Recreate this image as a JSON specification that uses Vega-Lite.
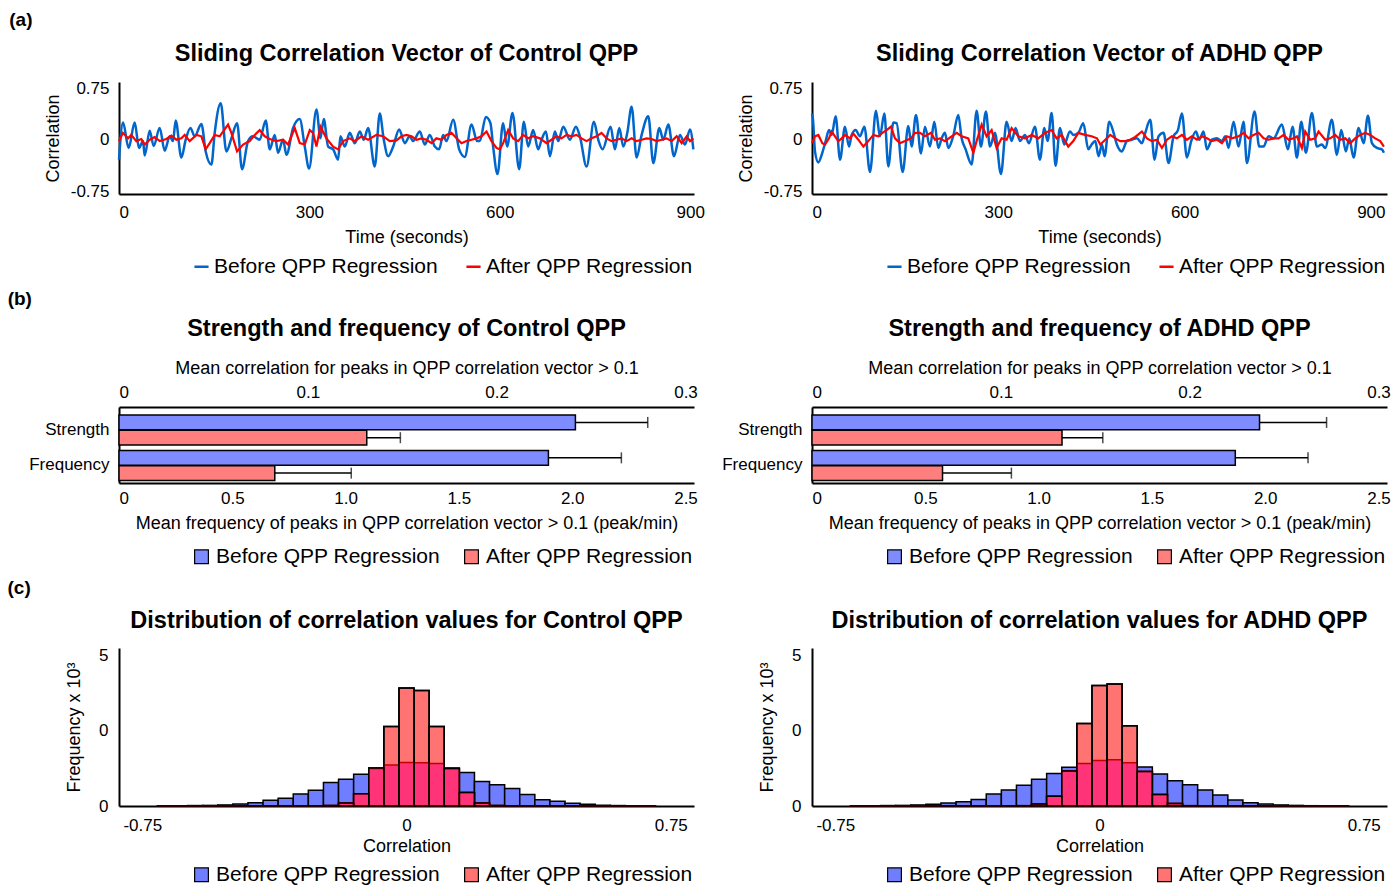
{
  "$schema": "https://vega.github.io/schema/vega-lite/v6.json",
  "background": "white",
  "padding": {"left": 7, "top": 10, "right": 2, "bottom": 0},
  "config": {
    "font": "Liberation Sans",
    "view": {"stroke": null},
    "axis": {"domainColor": "black", "domainWidth": 2, "ticks": false, "grid": false, "labelColor": "black", "titleColor": "black", "labelFontSize": 17, "titleFontSize": 18, "titleFontWeight": "normal", "labelFont": "Liberation Sans", "titleFont": "Liberation Sans"},
    "title": {"fontSize": 23.5, "fontWeight": "bold", "color": "black", "font": "Liberation Sans"},
    "legend": {"labelFontSize": 21, "labelColor": "black", "labelFont": "Liberation Sans", "labelLimit": 400}
  },
  "datasets": {
    "cb": [{"t":0,"v":-0.29},{"t":6.3,"v":0.25},{"t":15.2,"v":-0.12},{"t":24.7,"v":0.25},{"t":31.5,"v":-0.12},{"t":37.8,"v":-0.02},{"t":40.5,"v":-0.23},{"t":48.4,"v":0.13},{"t":54.6,"v":-0.09},{"t":64.1,"v":0.17},{"t":72,"v":-0.16},{"t":79.9,"v":0.05},{"t":85.1,"v":-0.02},{"t":89.3,"v":0.28},{"t":98.3,"v":-0.26},{"t":105.1,"v":0},{"t":112.5,"v":0.17},{"t":119.3,"v":0.05},{"t":129.8,"v":0.23},{"t":136.6,"v":-0.17},{"t":145.6,"v":-0.36},{"t":150.8,"v":0.1},{"t":160.3,"v":0.53},{"t":169.2,"v":-0.17},{"t":177.1,"v":0.02},{"t":186,"v":0.24},{"t":193.9,"v":-0.43},{"t":203.3,"v":-0.02},{"t":211.2,"v":0.05},{"t":221.7,"v":0},{"t":231.2,"v":0.28},{"t":237.5,"v":-0.14},{"t":245.4,"v":0.07},{"t":250.6,"v":-0.19},{"t":258.5,"v":0},{"t":263.8,"v":-0.22},{"t":274.3,"v":0.17},{"t":284.8,"v":0.3},{"t":292.7,"v":-0.1},{"t":299.5,"v":-0.42},{"t":311.1,"v":0.44},{"t":317.4,"v":0.02},{"t":322.6,"v":0.3},{"t":329.5,"v":-0.1},{"t":337.4,"v":-0.14},{"t":345.2,"v":-0.29},{"t":348.9,"v":0.05},{"t":355.7,"v":-0.1},{"t":363.6,"v":0.1},{"t":371.5,"v":-0.05},{"t":379.4,"v":0.12},{"t":385.7,"v":0},{"t":392.5,"v":0.17},{"t":403,"v":-0.39},{"t":410.9,"v":0.38},{"t":417.2,"v":0},{"t":424.1,"v":-0.24},{"t":432,"v":-0.1},{"t":441.4,"v":0.15},{"t":450.3,"v":-0.05},{"t":458,"v":0.05},{"t":463.4,"v":-0.02},{"t":474,"v":0.12},{"t":481.8,"v":-0.07},{"t":489.7,"v":0.07},{"t":497.6,"v":-0.1},{"t":504.4,"v":-0.14},{"t":510.7,"v":0.07},{"t":516,"v":-0.02},{"t":526.5,"v":0.29},{"t":536,"v":-0.14},{"t":544.9,"v":-0.25},{"t":555.4,"v":0.22},{"t":564.3,"v":-0.02},{"t":568.5,"v":-0.02},{"t":578,"v":0.33},{"t":585.3,"v":0.24},{"t":589.5,"v":-0.1},{"t":596.4,"v":-0.5},{"t":605.2,"v":0.24},{"t":611.6,"v":-0.1},{"t":620,"v":0.39},{"t":630.5,"v":-0.43},{"t":637.9,"v":0.26},{"t":644.7,"v":-0.1},{"t":652.6,"v":0.14},{"t":660.5,"v":-0.14},{"t":665.8,"v":0},{"t":672.6,"v":0.12},{"t":679,"v":-0.24},{"t":686.8,"v":0.12},{"t":692.1,"v":-0.02},{"t":700,"v":0.19},{"t":710.5,"v":0},{"t":719.9,"v":0.19},{"t":726.2,"v":0.05},{"t":736.7,"v":-0.39},{"t":748.3,"v":0.26},{"t":755.1,"v":0},{"t":762,"v":-0.14},{"t":774.6,"v":0.19},{"t":781.4,"v":-0.14},{"t":788.3,"v":0.17},{"t":794.6,"v":-0.1},{"t":800.9,"v":0.1},{"t":807.7,"v":0.48},{"t":815.6,"v":-0.26},{"t":823.5,"v":0.07},{"t":834,"v":0.34},{"t":841.9,"v":-0.34},{"t":851.3,"v":0.17},{"t":857.6,"v":0},{"t":865.5,"v":0.22},{"t":874.5,"v":-0.24},{"t":883.9,"v":0.07},{"t":891.8,"v":-0.07},{"t":899.7,"v":0.15},{"t":905,"v":-0.14}],
    "cr": [{"t":0,"v":-0.02},{"t":6.3,"v":0.1},{"t":14.2,"v":0.02},{"t":19.4,"v":0.07},{"t":27.3,"v":-0.02},{"t":35.2,"v":0.01},{"t":40.5,"v":-0.07},{"t":48.4,"v":0},{"t":56.2,"v":0.04},{"t":64.1,"v":-0.02},{"t":74.6,"v":0.01},{"t":82.5,"v":0.06},{"t":90.4,"v":0},{"t":98.3,"v":0.02},{"t":103.5,"v":0.07},{"t":111.4,"v":-0.02},{"t":122,"v":0.07},{"t":129.8,"v":0.05},{"t":136.6,"v":-0.14},{"t":142.9,"v":-0.05},{"t":150.8,"v":0.07},{"t":158.7,"v":0.05},{"t":171.8,"v":0.22},{"t":177.1,"v":0.1},{"t":186,"v":-0.17},{"t":195.5,"v":-0.07},{"t":206,"v":-0.02},{"t":213.9,"v":0.07},{"t":221.7,"v":0.14},{"t":229.6,"v":0.05},{"t":237.5,"v":0.01},{"t":248,"v":-0.02},{"t":258.5,"v":0},{"t":266.4,"v":-0.07},{"t":276.9,"v":0.17},{"t":284.8,"v":-0.05},{"t":292.7,"v":-0.07},{"t":300.6,"v":0.14},{"t":305.8,"v":0.1},{"t":311.1,"v":-0.1},{"t":317.4,"v":0.19},{"t":326.9,"v":0.02},{"t":337.4,"v":-0.1},{"t":345.2,"v":-0.14},{"t":353.1,"v":-0.02},{"t":363.6,"v":0.02},{"t":371.5,"v":-0.02},{"t":382,"v":0.05},{"t":392.5,"v":0},{"t":405.6,"v":0.07},{"t":416.2,"v":0.05},{"t":426.7,"v":-0.02},{"t":437.2,"v":-0.01},{"t":445.1,"v":0.05},{"t":453,"v":0.07},{"t":460.8,"v":0.05},{"t":468.7,"v":0},{"t":476.6,"v":0.02},{"t":484.5,"v":0},{"t":492.4,"v":-0.05},{"t":500.2,"v":0.02},{"t":508.1,"v":0},{"t":516,"v":0.07},{"t":523.9,"v":0.1},{"t":531.8,"v":0.02},{"t":539.6,"v":-0.05},{"t":547.5,"v":-0.02},{"t":555.4,"v":0},{"t":563.3,"v":0.02},{"t":571.2,"v":0.05},{"t":579.1,"v":0.12},{"t":586.9,"v":-0.02},{"t":594.8,"v":-0.12},{"t":600.1,"v":-0.14},{"t":605.3,"v":-0.05},{"t":613.2,"v":0.14},{"t":621.1,"v":0.02},{"t":629,"v":-0.02},{"t":636.8,"v":0.07},{"t":644.7,"v":0.02},{"t":652.6,"v":0.05},{"t":663.1,"v":0.02},{"t":673.6,"v":-0.05},{"t":681.5,"v":0},{"t":689.4,"v":0.05},{"t":697.3,"v":0.02},{"t":705.1,"v":0.07},{"t":713,"v":0.05},{"t":720.9,"v":0.07},{"t":728.8,"v":0.02},{"t":736.7,"v":-0.02},{"t":744.6,"v":0.02},{"t":752.5,"v":0.05},{"t":760.3,"v":0.1},{"t":768.2,"v":0.02},{"t":776.1,"v":-0.02},{"t":784,"v":0},{"t":791.9,"v":0.02},{"t":799.8,"v":-0.02},{"t":807.7,"v":0.02},{"t":815.6,"v":-0.02},{"t":823.5,"v":0},{"t":831.3,"v":0.02},{"t":839.2,"v":0.01},{"t":847.1,"v":-0.02},{"t":855,"v":0},{"t":862.9,"v":0.02},{"t":870.8,"v":-0.02},{"t":878.7,"v":0.05},{"t":886.6,"v":-0.05},{"t":894.5,"v":0.05},{"t":899.7,"v":-0.02},{"t":905,"v":0.02}],
    "ab": [{"t":0,"v":0.38},{"t":1.5,"v":0.3},{"t":4.8,"v":-0.17},{"t":10.2,"v":-0.33},{"t":16.6,"v":-0.19},{"t":22,"v":-0.02},{"t":27.4,"v":0.14},{"t":31.7,"v":0.07},{"t":38.1,"v":0.34},{"t":45.1,"v":-0.29},{"t":53.1,"v":0.19},{"t":59.6,"v":-0.1},{"t":63.9,"v":0.07},{"t":70.3,"v":0.14},{"t":77.3,"v":0.05},{"t":84.3,"v":0.19},{"t":93.4,"v":-0.47},{"t":103,"v":0.42},{"t":109.4,"v":0.05},{"t":116.5,"v":0.38},{"t":122.9,"v":-0.39},{"t":131,"v":0.25},{"t":136.3,"v":0.24},{"t":146,"v":-0.47},{"t":155.1,"v":0.2},{"t":160.5,"v":-0.1},{"t":167.4,"v":0.36},{"t":175.5,"v":-0.2},{"t":181.9,"v":0.19},{"t":190,"v":-0.1},{"t":197,"v":0.26},{"t":203.4,"v":-0.12},{"t":208.8,"v":0.02},{"t":214.1,"v":0.1},{"t":219.5,"v":-0.12},{"t":227.3,"v":0.05},{"t":235.6,"v":0.36},{"t":241,"v":0.02},{"t":247.4,"v":-0.14},{"t":257.1,"v":-0.36},{"t":265.1,"v":0.42},{"t":272.1,"v":-0.1},{"t":280.1,"v":0.41},{"t":286.6,"v":-0.1},{"t":294.6,"v":0.1},{"t":304.3,"v":-0.5},{"t":313.4,"v":0.26},{"t":321.5,"v":-0.02},{"t":327.9,"v":0.17},{"t":334.9,"v":-0.02},{"t":342.9,"v":0.07},{"t":349.4,"v":-0.05},{"t":359,"v":0.19},{"t":367.1,"v":-0.29},{"t":374.1,"v":0.17},{"t":379.4,"v":-0.02},{"t":385.9,"v":0.39},{"t":392.3,"v":-0.38},{"t":399.3,"v":0.17},{"t":406.3,"v":-0.07},{"t":415.4,"v":0.12},{"t":420.8,"v":0.07},{"t":428.9,"v":0.1},{"t":436.9,"v":0.24},{"t":445,"v":-0.14},{"t":450.3,"v":-0.07},{"t":456.2,"v":-0.02},{"t":461.5,"v":-0.24},{"t":466.9,"v":-0.07},{"t":471.2,"v":-0.24},{"t":478.7,"v":0.26},{"t":485.7,"v":0.1},{"t":491,"v":-0.07},{"t":499.1,"v":-0.17},{"t":507.1,"v":-0.02},{"t":515.2,"v":0},{"t":523.3,"v":0.02},{"t":531.3,"v":-0.05},{"t":536.7,"v":0.1},{"t":544.7,"v":0.29},{"t":551.7,"v":-0.29},{"t":558.1,"v":0.05},{"t":566.2,"v":0.1},{"t":574.2,"v":-0.34},{"t":582.3,"v":0.05},{"t":589.3,"v":0.14},{"t":595.7,"v":0.38},{"t":603.8,"v":-0.26},{"t":610.7,"v":-0.02},{"t":618.3,"v":0.12},{"t":623.6,"v":0},{"t":630.6,"v":0.12},{"t":635.9,"v":-0.14},{"t":644,"v":0},{"t":652,"v":0.02},{"t":660.1,"v":-0.02},{"t":665.5,"v":0.05},{"t":670.8,"v":-0.12},{"t":678.9,"v":0.26},{"t":686.9,"v":-0.1},{"t":695,"v":0.26},{"t":700.4,"v":-0.34},{"t":712.7,"v":0.41},{"t":720.2,"v":-0.1},{"t":727.2,"v":-0.1},{"t":735.2,"v":0.05},{"t":743.3,"v":0.02},{"t":756.7,"v":0.22},{"t":766.4,"v":-0.14},{"t":773.9,"v":0.19},{"t":780.9,"v":-0.26},{"t":787.9,"v":0.26},{"t":795.4,"v":-0.19},{"t":805,"v":0.39},{"t":813.1,"v":-0.1},{"t":821.1,"v":-0.07},{"t":826.5,"v":-0.12},{"t":837.2,"v":0.29},{"t":845.3,"v":-0.22},{"t":852.3,"v":0.14},{"t":859.8,"v":-0.17},{"t":865.2,"v":0.02},{"t":872.2,"v":-0.26},{"t":880.2,"v":0.17},{"t":888.3,"v":-0.05},{"t":895.3,"v":0.35},{"t":901.7,"v":-0.05},{"t":909.8,"v":-0.12},{"t":917.8,"v":-0.14},{"t":921,"v":-0.19}],
    "ar": [{"t":0,"v":-0.05},{"t":4.8,"v":0.05},{"t":10.2,"v":0.07},{"t":16.6,"v":-0.05},{"t":20.9,"v":-0.07},{"t":27.4,"v":0.02},{"t":31.7,"v":0.12},{"t":37,"v":0.05},{"t":42.4,"v":-0.02},{"t":47.8,"v":0.02},{"t":53.1,"v":0.07},{"t":61.2,"v":0.02},{"t":66.6,"v":0.09},{"t":74.6,"v":0},{"t":82.7,"v":-0.1},{"t":90.7,"v":-0.02},{"t":98.8,"v":0.07},{"t":106.8,"v":0.05},{"t":113.2,"v":0.1},{"t":120.2,"v":0.14},{"t":127.2,"v":0.19},{"t":133.6,"v":0.02},{"t":141.7,"v":-0.05},{"t":149.7,"v":-0.02},{"t":159.4,"v":0.02},{"t":165.8,"v":0.1},{"t":173.9,"v":0.1},{"t":181.9,"v":0.05},{"t":191.6,"v":0.1},{"t":198,"v":0},{"t":206.1,"v":0.02},{"t":214.1,"v":-0.02},{"t":224.9,"v":0.05},{"t":232.9,"v":0.1},{"t":241,"v":0.05},{"t":251.7,"v":0.02},{"t":259.8,"v":-0.19},{"t":265.1,"v":-0.02},{"t":273.2,"v":0.22},{"t":281.2,"v":0.05},{"t":289.3,"v":0.14},{"t":297.3,"v":-0.12},{"t":305.4,"v":0.02},{"t":313.4,"v":0},{"t":321.5,"v":0.17},{"t":332.2,"v":0.05},{"t":342.9,"v":0.02},{"t":353.7,"v":0.07},{"t":364.4,"v":0.02},{"t":375.1,"v":0.1},{"t":385.9,"v":0.14},{"t":393.9,"v":0.02},{"t":402,"v":0.07},{"t":412.7,"v":-0.1},{"t":420.8,"v":-0.02},{"t":428.9,"v":0.1},{"t":439.6,"v":0.07},{"t":450.3,"v":0.05},{"t":458.9,"v":0.02},{"t":464.2,"v":-0.07},{"t":472.3,"v":0},{"t":480.3,"v":0.07},{"t":488.4,"v":0.02},{"t":496.4,"v":-0.02},{"t":504.5,"v":-0.02},{"t":512.5,"v":0},{"t":520.6,"v":0.04},{"t":531.3,"v":0.12},{"t":539.4,"v":0.02},{"t":547.4,"v":-0.02},{"t":555.5,"v":0},{"t":563.5,"v":-0.12},{"t":571.6,"v":0},{"t":579.6,"v":0.05},{"t":587.7,"v":0.02},{"t":595.7,"v":0.07},{"t":603.8,"v":0},{"t":611.8,"v":0.05},{"t":619.9,"v":0},{"t":627.9,"v":0.05},{"t":636,"v":0.02},{"t":644,"v":-0.02},{"t":652.1,"v":0},{"t":660.1,"v":-0.05},{"t":668.2,"v":0.05},{"t":676.2,"v":0.02},{"t":687,"v":0.05},{"t":695,"v":0.1},{"t":703.1,"v":0.02},{"t":711.1,"v":0.07},{"t":719.2,"v":0.1},{"t":727.2,"v":0.02},{"t":735.3,"v":0},{"t":743.3,"v":0.02},{"t":751.4,"v":0.02},{"t":759.4,"v":0.07},{"t":767.5,"v":0},{"t":775.5,"v":0.02},{"t":780.9,"v":0.05},{"t":788.9,"v":-0.12},{"t":794.3,"v":0.12},{"t":802.3,"v":0},{"t":810.4,"v":0.02},{"t":815.8,"v":0.12},{"t":826.5,"v":0},{"t":834.6,"v":0.02},{"t":842.6,"v":0.07},{"t":850.7,"v":0},{"t":858.7,"v":0.02},{"t":866.8,"v":-0.05},{"t":874.8,"v":0.02},{"t":882.9,"v":0.07},{"t":890.9,"v":0.1},{"t":899,"v":0.07},{"t":907,"v":0.02},{"t":915.1,"v":-0.02},{"t":921,"v":-0.1}],
    "bars": [
      {"panel":"Control","measure":"Strength","group":"Before QPP Regression","mean":0.2417,"hi":0.28},
      {"panel":"Control","measure":"Strength","group":"After QPP Regression","mean":0.1312,"hi":0.149},
      {"panel":"Control","measure":"Frequency","group":"Before QPP Regression","mean":1.895,"hi":2.217},
      {"panel":"Control","measure":"Frequency","group":"After QPP Regression","mean":0.6875,"hi":1.025},
      {"panel":"ADHD","measure":"Strength","group":"Before QPP Regression","mean":0.237,"hi":0.2725},
      {"panel":"ADHD","measure":"Strength","group":"After QPP Regression","mean":0.1324,"hi":0.154},
      {"panel":"ADHD","measure":"Frequency","group":"Before QPP Regression","mean":1.868,"hi":2.189},
      {"panel":"ADHD","measure":"Frequency","group":"After QPP Regression","mean":0.576,"hi":0.88}
    ],
    "hist": [
      {"panel":"Control","lo":-0.7071,"hi":-0.6643,"before":0.02,"after":0},
      {"panel":"Control","lo":-0.6643,"hi":-0.6214,"before":0.02,"after":0},
      {"panel":"Control","lo":-0.6214,"hi":-0.5786,"before":0.03,"after":0},
      {"panel":"Control","lo":-0.5786,"hi":-0.5357,"before":0.04,"after":0},
      {"panel":"Control","lo":-0.5357,"hi":-0.4929,"before":0.07,"after":0},
      {"panel":"Control","lo":-0.4929,"hi":-0.45,"before":0.13,"after":0},
      {"panel":"Control","lo":-0.45,"hi":-0.4071,"before":0.22,"after":0},
      {"panel":"Control","lo":-0.4071,"hi":-0.3643,"before":0.38,"after":0},
      {"panel":"Control","lo":-0.3643,"hi":-0.3214,"before":0.51,"after":0},
      {"panel":"Control","lo":-0.3214,"hi":-0.2786,"before":0.8,"after":0},
      {"panel":"Control","lo":-0.2786,"hi":-0.2357,"before":1.04,"after":0.01},
      {"panel":"Control","lo":-0.2357,"hi":-0.1929,"before":1.56,"after":0.03},
      {"panel":"Control","lo":-0.1929,"hi":-0.15,"before":1.78,"after":0.2},
      {"panel":"Control","lo":-0.15,"hi":-0.1071,"before":2.11,"after":0.82},
      {"panel":"Control","lo":-0.1071,"hi":-0.0643,"before":2.5,"after":2.52},
      {"panel":"Control","lo":-0.0643,"hi":-0.0214,"before":2.73,"after":5.29},
      {"panel":"Control","lo":-0.0214,"hi":0.0214,"before":2.89,"after":7.84},
      {"panel":"Control","lo":0.0214,"hi":0.0643,"before":2.87,"after":7.67},
      {"panel":"Control","lo":0.0643,"hi":0.1071,"before":2.82,"after":5.29},
      {"panel":"Control","lo":0.1071,"hi":0.15,"before":2.53,"after":2.49},
      {"panel":"Control","lo":0.15,"hi":0.1929,"before":2.22,"after":0.89},
      {"panel":"Control","lo":0.1929,"hi":0.2357,"before":1.62,"after":0.2},
      {"panel":"Control","lo":0.2357,"hi":0.2786,"before":1.42,"after":0.03},
      {"panel":"Control","lo":0.2786,"hi":0.3214,"before":1.16,"after":0},
      {"panel":"Control","lo":0.3214,"hi":0.3643,"before":0.76,"after":0},
      {"panel":"Control","lo":0.3643,"hi":0.4071,"before":0.42,"after":0},
      {"panel":"Control","lo":0.4071,"hi":0.45,"before":0.31,"after":0},
      {"panel":"Control","lo":0.45,"hi":0.4929,"before":0.18,"after":0},
      {"panel":"Control","lo":0.4929,"hi":0.5357,"before":0.11,"after":0},
      {"panel":"Control","lo":0.5357,"hi":0.5786,"before":0.05,"after":0},
      {"panel":"Control","lo":0.5786,"hi":0.6214,"before":0.03,"after":0},
      {"panel":"Control","lo":0.6214,"hi":0.6643,"before":0.02,"after":0},
      {"panel":"Control","lo":0.6643,"hi":0.7071,"before":0.01,"after":0},
      {"panel":"ADHD","lo":-0.7071,"hi":-0.6643,"before":0.01,"after":0},
      {"panel":"ADHD","lo":-0.6643,"hi":-0.6214,"before":0.02,"after":0},
      {"panel":"ADHD","lo":-0.6214,"hi":-0.5786,"before":0.03,"after":0},
      {"panel":"ADHD","lo":-0.5786,"hi":-0.5357,"before":0.04,"after":0},
      {"panel":"ADHD","lo":-0.5357,"hi":-0.4929,"before":0.07,"after":0},
      {"panel":"ADHD","lo":-0.4929,"hi":-0.45,"before":0.11,"after":0},
      {"panel":"ADHD","lo":-0.45,"hi":-0.4071,"before":0.2,"after":0},
      {"panel":"ADHD","lo":-0.4071,"hi":-0.3643,"before":0.29,"after":0},
      {"panel":"ADHD","lo":-0.3643,"hi":-0.3214,"before":0.44,"after":0},
      {"panel":"ADHD","lo":-0.3214,"hi":-0.2786,"before":0.8,"after":0},
      {"panel":"ADHD","lo":-0.2786,"hi":-0.2357,"before":1.07,"after":0.01},
      {"panel":"ADHD","lo":-0.2357,"hi":-0.1929,"before":1.38,"after":0.02},
      {"panel":"ADHD","lo":-0.1929,"hi":-0.15,"before":1.78,"after":0.13},
      {"panel":"ADHD","lo":-0.15,"hi":-0.1071,"before":2.16,"after":0.64},
      {"panel":"ADHD","lo":-0.1071,"hi":-0.0643,"before":2.58,"after":2.33},
      {"panel":"ADHD","lo":-0.0643,"hi":-0.0214,"before":2.82,"after":5.49},
      {"panel":"ADHD","lo":-0.0214,"hi":0.0214,"before":3.02,"after":8.0},
      {"panel":"ADHD","lo":0.0214,"hi":0.0643,"before":3.07,"after":8.11},
      {"panel":"ADHD","lo":0.0643,"hi":0.1071,"before":2.87,"after":5.33},
      {"panel":"ADHD","lo":0.1071,"hi":0.15,"before":2.6,"after":2.29},
      {"panel":"ADHD","lo":0.15,"hi":0.1929,"before":2.13,"after":0.76},
      {"panel":"ADHD","lo":0.1929,"hi":0.2357,"before":1.67,"after":0.16},
      {"panel":"ADHD","lo":0.2357,"hi":0.2786,"before":1.42,"after":0.02},
      {"panel":"ADHD","lo":0.2786,"hi":0.3214,"before":1.07,"after":0},
      {"panel":"ADHD","lo":0.3214,"hi":0.3643,"before":0.73,"after":0},
      {"panel":"ADHD","lo":0.3643,"hi":0.4071,"before":0.4,"after":0},
      {"panel":"ADHD","lo":0.4071,"hi":0.45,"before":0.22,"after":0},
      {"panel":"ADHD","lo":0.45,"hi":0.4929,"before":0.13,"after":0},
      {"panel":"ADHD","lo":0.4929,"hi":0.5357,"before":0.07,"after":0},
      {"panel":"ADHD","lo":0.5357,"hi":0.5786,"before":0.04,"after":0},
      {"panel":"ADHD","lo":0.5786,"hi":0.6214,"before":0.02,"after":0},
      {"panel":"ADHD","lo":0.6214,"hi":0.6643,"before":0.01,"after":0},
      {"panel":"ADHD","lo":0.6643,"hi":0.7071,"before":0.01,"after":0}
    ]
  },
  "spacing": 12,
  "resolve": {"scale": {"color": "independent"}, "legend": {"color": "independent"}},
  "vconcat": [
    {
      "title": {"text": "(a)", "anchor": "start", "fontSize": 19, "fontWeight": "bold", "dx": -35, "offset": 12},
      "bounds": "flush",
      "spacing": 118,
      "resolve": {"scale": {"color": "independent"}, "legend": {"color": "independent"}},
      "hconcat": [
        {
          "width": 575, "height": 112,
          "title": {"text": "Sliding Correlation Vector of Control QPP", "frame": "group", "offset": 14},
          "encoding": {
            "x": {"field": "t", "type": "quantitative", "scale": {"domain": [0, 906], "nice": false, "zero": false}, "axis": {"values": [0, 300, 600, 900], "title": "Time (seconds)", "labelPadding": 10, "titlePadding": 8}},
            "y": {"field": "v", "type": "quantitative", "scale": {"domain": [-0.79, 0.84], "nice": false}, "axis": {"values": [-0.75, 0, 0.75], "title": "Correlation", "labelExpr": "(datum.value < 0 ? '-' : '') + format(abs(datum.value), '~g')", "labelPadding": 10, "titlePadding": 8}}
          },
          "layer": [
            {"data": {"name": "cb"}, "mark": {"type": "line", "strokeWidth": 2.5, "interpolate": "monotone"},
             "encoding": {"color": {"datum": "Before QPP Regression", "type": "nominal", "scale": {"domain": ["Before QPP Regression", "After QPP Regression"], "range": ["#0066cc", "#ff0000"]},
               "legend": {"orient": "none", "legendX": 72, "legendY": 174, "direction": "horizontal", "title": null, "symbolType": "stroke", "symbolStrokeWidth": 2.5, "symbolSize": 200, "labelOffset": 2, "columnPadding": 22}}}},
            {"data": {"name": "cr"}, "mark": {"type": "line", "strokeWidth": 2.2},
             "encoding": {"color": {"datum": "After QPP Regression", "type": "nominal"}}}
          ]
        },
        {
          "width": 575, "height": 112,
          "title": {"text": "Sliding Correlation Vector of ADHD QPP", "frame": "group", "offset": 14},
          "encoding": {
            "x": {"field": "t", "type": "quantitative", "scale": {"domain": [0, 926], "nice": false, "zero": false}, "axis": {"values": [0, 300, 600, 900], "title": "Time (seconds)", "labelPadding": 10, "titlePadding": 8}},
            "y": {"field": "v", "type": "quantitative", "scale": {"domain": [-0.79, 0.84], "nice": false}, "axis": {"values": [-0.75, 0, 0.75], "title": "Correlation", "labelExpr": "(datum.value < 0 ? '-' : '') + format(abs(datum.value), '~g')", "labelPadding": 10, "titlePadding": 8}}
          },
          "layer": [
            {"data": {"name": "ab"}, "mark": {"type": "line", "strokeWidth": 2.5, "interpolate": "monotone"},
             "encoding": {"color": {"datum": "Before QPP Regression", "type": "nominal", "scale": {"domain": ["Before QPP Regression", "After QPP Regression"], "range": ["#0066cc", "#ff0000"]},
               "legend": {"orient": "none", "legendX": 72, "legendY": 174, "direction": "horizontal", "title": null, "symbolType": "stroke", "symbolStrokeWidth": 2.5, "symbolSize": 200, "labelOffset": 2, "columnPadding": 22}}}},
            {"data": {"name": "ar"}, "mark": {"type": "line", "strokeWidth": 2.2},
             "encoding": {"color": {"datum": "After QPP Regression", "type": "nominal"}}}
          ]
        }
      ]
    },
    {
      "title": {"text": "(b)", "anchor": "start", "fontSize": 19, "fontWeight": "bold", "dx": -21, "offset": 8},
      "bounds": "flush",
      "spacing": 118,
      "resolve": {"scale": {"color": "independent"}, "legend": {"color": "independent"}},
      "hconcat": [
        {
          "width": 575, "height": 76,
          "title": {"text": "Strength and frequency of Control QPP", "frame": "group", "offset": 19},
          "data": {"name": "bars"},
          "transform": [{"filter": "datum.panel == 'Control'"}],
          "encoding": {
            "y": {"field": "measure", "type": "nominal", "scale": {"domain": ["Strength", "Frequency"], "paddingInner": 0.155, "paddingOuter": 0.15, "align": 0.76}, "axis": {"title": null, "labelPadding": 10}},
            "yOffset": {"field": "group", "type": "nominal", "scale": {"domain": ["Before QPP Regression", "After QPP Regression"], "paddingInner": 0.04, "paddingOuter": 0}}
          },
          "layer": [
            {
              "transform": [{"filter": "datum.measure == 'Strength'"}],
              "layer": [
                {"mark": {"type": "bar", "stroke": "black", "strokeWidth": 1.5},
                 "encoding": {
                   "x": {"field": "mean", "type": "quantitative", "scale": {"domain": [0, 0.3045], "nice": false}, "axis": {"orient": "top", "values": [0, 0.1, 0.2, 0.3], "labelExpr": "datum.value == 0 ? '0' : format(datum.value, '.1f')", "title": "Mean correlation for peaks in QPP correlation vector > 0.1", "labelPadding": 6, "titlePadding": 6}},
                   "color": {"field": "group", "type": "nominal", "scale": {"domain": ["Before QPP Regression", "After QPP Regression"], "range": ["#7f8cff", "#ff7f7f"]},
                     "legend": {"orient": "none", "legendX": 72, "legendY": 139, "direction": "horizontal", "title": null, "symbolType": "square", "symbolSize": 190, "symbolStrokeColor": "black", "symbolStrokeWidth": 1.2, "labelOffset": 4, "columnPadding": 20}}
                 }},
                {"mark": {"type": "rule", "color": "black", "strokeWidth": 1.5},
                 "encoding": {"x": {"field": "mean", "type": "quantitative", "scale": {"domain": [0, 0.3045], "nice": false}, "axis": {"orient": "top", "values": [0, 0.1, 0.2, 0.3], "labelExpr": "datum.value == 0 ? '0' : format(datum.value, '.1f')", "title": "Mean correlation for peaks in QPP correlation vector > 0.1", "labelPadding": 6, "titlePadding": 6}}, "x2": {"field": "hi"}}},
                {"mark": {"type": "tick", "orient": "vertical", "color": "black", "thickness": 1.5, "size": 11},
                 "encoding": {"x": {"field": "hi", "type": "quantitative", "scale": {"domain": [0, 0.3045], "nice": false}, "axis": {"orient": "top", "values": [0, 0.1, 0.2, 0.3], "labelExpr": "datum.value == 0 ? '0' : format(datum.value, '.1f')", "title": "Mean correlation for peaks in QPP correlation vector > 0.1", "labelPadding": 6, "titlePadding": 6}}}}
              ]
            },
            {
              "transform": [{"filter": "datum.measure == 'Frequency'"}],
              "layer": [
                {"mark": {"type": "bar", "stroke": "black", "strokeWidth": 1.5},
                 "encoding": {
                   "x": {"field": "mean", "type": "quantitative", "scale": {"domain": [0, 2.5375], "nice": false}, "axis": {"orient": "bottom", "values": [0, 0.5, 1, 1.5, 2, 2.5], "labelExpr": "datum.value == 0 ? '0' : format(datum.value, '.1f')", "title": "Mean frequency of peaks in QPP correlation vector > 0.1 (peak/min)", "labelPadding": 7, "titlePadding": 8}},
                   "color": {"field": "group", "type": "nominal", "scale": {"domain": ["Before QPP Regression", "After QPP Regression"], "range": ["#7f8cff", "#ff7f7f"]},
                     "legend": {"orient": "none", "legendX": 72, "legendY": 139, "direction": "horizontal", "title": null, "symbolType": "square", "symbolSize": 190, "symbolStrokeColor": "black", "symbolStrokeWidth": 1.2, "labelOffset": 4, "columnPadding": 20}}
                 }},
                {"mark": {"type": "rule", "color": "black", "strokeWidth": 1.5},
                 "encoding": {"x": {"field": "mean", "type": "quantitative", "scale": {"domain": [0, 2.5375], "nice": false}, "axis": {"orient": "bottom", "values": [0, 0.5, 1, 1.5, 2, 2.5], "labelExpr": "datum.value == 0 ? '0' : format(datum.value, '.1f')", "title": "Mean frequency of peaks in QPP correlation vector > 0.1 (peak/min)", "labelPadding": 7, "titlePadding": 8}}, "x2": {"field": "hi"}}},
                {"mark": {"type": "tick", "orient": "vertical", "color": "black", "thickness": 1.5, "size": 11},
                 "encoding": {"x": {"field": "hi", "type": "quantitative", "scale": {"domain": [0, 2.5375], "nice": false}, "axis": {"orient": "bottom", "values": [0, 0.5, 1, 1.5, 2, 2.5], "labelExpr": "datum.value == 0 ? '0' : format(datum.value, '.1f')", "title": "Mean frequency of peaks in QPP correlation vector > 0.1 (peak/min)", "labelPadding": 7, "titlePadding": 8}}}}
              ]
            }
          ],
          "resolve": {"scale": {"x": "independent"}}
        },
        {
          "width": 575, "height": 76,
          "title": {"text": "Strength and frequency of ADHD QPP", "frame": "group", "offset": 19},
          "data": {"name": "bars"},
          "transform": [{"filter": "datum.panel == 'ADHD'"}],
          "encoding": {
            "y": {"field": "measure", "type": "nominal", "scale": {"domain": ["Strength", "Frequency"], "paddingInner": 0.155, "paddingOuter": 0.15, "align": 0.76}, "axis": {"title": null, "labelPadding": 10}},
            "yOffset": {"field": "group", "type": "nominal", "scale": {"domain": ["Before QPP Regression", "After QPP Regression"], "paddingInner": 0.04, "paddingOuter": 0}}
          },
          "layer": [
            {
              "transform": [{"filter": "datum.measure == 'Strength'"}],
              "layer": [
                {"mark": {"type": "bar", "stroke": "black", "strokeWidth": 1.5},
                 "encoding": {
                   "x": {"field": "mean", "type": "quantitative", "scale": {"domain": [0, 0.3045], "nice": false}, "axis": {"orient": "top", "values": [0, 0.1, 0.2, 0.3], "labelExpr": "datum.value == 0 ? '0' : format(datum.value, '.1f')", "title": "Mean correlation for peaks in QPP correlation vector > 0.1", "labelPadding": 6, "titlePadding": 6}},
                   "color": {"field": "group", "type": "nominal", "scale": {"domain": ["Before QPP Regression", "After QPP Regression"], "range": ["#7f8cff", "#ff7f7f"]},
                     "legend": {"orient": "none", "legendX": 72, "legendY": 139, "direction": "horizontal", "title": null, "symbolType": "square", "symbolSize": 190, "symbolStrokeColor": "black", "symbolStrokeWidth": 1.2, "labelOffset": 4, "columnPadding": 20}}
                 }},
                {"mark": {"type": "rule", "color": "black", "strokeWidth": 1.5},
                 "encoding": {"x": {"field": "mean", "type": "quantitative", "scale": {"domain": [0, 0.3045], "nice": false}, "axis": {"orient": "top", "values": [0, 0.1, 0.2, 0.3], "labelExpr": "datum.value == 0 ? '0' : format(datum.value, '.1f')", "title": "Mean correlation for peaks in QPP correlation vector > 0.1", "labelPadding": 6, "titlePadding": 6}}, "x2": {"field": "hi"}}},
                {"mark": {"type": "tick", "orient": "vertical", "color": "black", "thickness": 1.5, "size": 11},
                 "encoding": {"x": {"field": "hi", "type": "quantitative", "scale": {"domain": [0, 0.3045], "nice": false}, "axis": {"orient": "top", "values": [0, 0.1, 0.2, 0.3], "labelExpr": "datum.value == 0 ? '0' : format(datum.value, '.1f')", "title": "Mean correlation for peaks in QPP correlation vector > 0.1", "labelPadding": 6, "titlePadding": 6}}}}
              ]
            },
            {
              "transform": [{"filter": "datum.measure == 'Frequency'"}],
              "layer": [
                {"mark": {"type": "bar", "stroke": "black", "strokeWidth": 1.5},
                 "encoding": {
                   "x": {"field": "mean", "type": "quantitative", "scale": {"domain": [0, 2.5375], "nice": false}, "axis": {"orient": "bottom", "values": [0, 0.5, 1, 1.5, 2, 2.5], "labelExpr": "datum.value == 0 ? '0' : format(datum.value, '.1f')", "title": "Mean frequency of peaks in QPP correlation vector > 0.1 (peak/min)", "labelPadding": 7, "titlePadding": 8}},
                   "color": {"field": "group", "type": "nominal", "scale": {"domain": ["Before QPP Regression", "After QPP Regression"], "range": ["#7f8cff", "#ff7f7f"]},
                     "legend": {"orient": "none", "legendX": 72, "legendY": 139, "direction": "horizontal", "title": null, "symbolType": "square", "symbolSize": 190, "symbolStrokeColor": "black", "symbolStrokeWidth": 1.2, "labelOffset": 4, "columnPadding": 20}}
                 }},
                {"mark": {"type": "rule", "color": "black", "strokeWidth": 1.5},
                 "encoding": {"x": {"field": "mean", "type": "quantitative", "scale": {"domain": [0, 2.5375], "nice": false}, "axis": {"orient": "bottom", "values": [0, 0.5, 1, 1.5, 2, 2.5], "labelExpr": "datum.value == 0 ? '0' : format(datum.value, '.1f')", "title": "Mean frequency of peaks in QPP correlation vector > 0.1 (peak/min)", "labelPadding": 7, "titlePadding": 8}}, "x2": {"field": "hi"}}},
                {"mark": {"type": "tick", "orient": "vertical", "color": "black", "thickness": 1.5, "size": 11},
                 "encoding": {"x": {"field": "hi", "type": "quantitative", "scale": {"domain": [0, 2.5375], "nice": false}, "axis": {"orient": "bottom", "values": [0, 0.5, 1, 1.5, 2, 2.5], "labelExpr": "datum.value == 0 ? '0' : format(datum.value, '.1f')", "title": "Mean frequency of peaks in QPP correlation vector > 0.1 (peak/min)", "labelPadding": 7, "titlePadding": 8}}}}
              ]
            }
          ],
          "resolve": {"scale": {"x": "independent"}}
        }
      ]
    },
    {
      "title": {"text": "(c)", "anchor": "start", "fontSize": 19, "fontWeight": "bold", "dx": -58, "offset": 11},
      "bounds": "flush",
      "spacing": 118,
      "resolve": {"scale": {"color": "independent"}, "legend": {"color": "independent"}},
      "hconcat": [
        {
          "width": 575, "height": 158,
          "title": {"text": "Distribution of correlation values for Control QPP", "frame": "group", "offset": 14},
          "data": {"name": "hist"},
          "transform": [{"filter": "datum.panel == 'Control'"}],
          "encoding": {
            "x": {"field": "lo", "type": "quantitative", "scale": {"domain": [-0.816, 0.816], "nice": false, "zero": false}, "axis": {"values": [-0.75, 0, 0.75], "labelExpr": "(datum.value < 0 ? '-' : '') + format(abs(datum.value), '~g')", "title": "Correlation", "labelPadding": 11, "titlePadding": 4}},
            "x2": {"field": "hi"},
            "y2": {"datum": 0}
          },
          "layer": [
            {"mark": {"type": "bar", "stroke": "black", "strokeWidth": 1.5},
             "encoding": {
               "y": {"field": "before", "type": "quantitative", "scale": {"domain": [0, 10.5], "nice": false}, "axis": {"values": [0, 5, 10], "labelExpr": "datum.value == 10 ? '5' : '0'", "title": "Frequency x 10³", "labelPadding": 11, "titlePadding": 15}},
               "color": {"datum": "Before QPP Regression", "type": "nominal", "scale": {"domain": ["Before QPP Regression", "After QPP Regression"], "range": ["#6f7dff", "#ff7373"]},
                 "legend": {"orient": "none", "legendX": 72, "legendY": 216, "direction": "horizontal", "title": null, "symbolType": "square", "symbolSize": 190, "symbolStrokeColor": "black", "symbolStrokeWidth": 1.2, "labelOffset": 4, "columnPadding": 20}}
             }},
            {"mark": {"type": "bar", "stroke": "black", "strokeWidth": 1.5},
             "encoding": {"y": {"field": "after", "type": "quantitative", "scale": {"domain": [0, 10.5], "nice": false}, "axis": {"values": [0, 5, 10], "labelExpr": "datum.value == 10 ? '5' : '0'", "title": "Frequency x 10³", "labelPadding": 11, "titlePadding": 15}}, "color": {"datum": "After QPP Regression", "type": "nominal"}}},
            {"transform": [{"fold": ["before", "after"], "as": ["series", "val"]}, {"aggregate": [{"op": "min", "field": "val", "as": "overlap"}], "groupby": ["lo", "hi"]}],
             "mark": {"type": "bar", "fill": "#ff3377", "stroke": "#c40000", "strokeWidth": 1.5},
             "encoding": {"y": {"field": "overlap", "type": "quantitative", "scale": {"domain": [0, 10.5], "nice": false}, "axis": {"values": [0, 5, 10], "labelExpr": "datum.value == 10 ? '5' : '0'", "title": "Frequency x 10³", "labelPadding": 11, "titlePadding": 15}}}},
            {"mark": {"type": "bar", "fillOpacity": 0, "stroke": "black", "strokeWidth": 1.5},
             "encoding": {"y": {"field": "after", "type": "quantitative", "scale": {"domain": [0, 10.5], "nice": false}, "axis": {"values": [0, 5, 10], "labelExpr": "datum.value == 10 ? '5' : '0'", "title": "Frequency x 10³", "labelPadding": 11, "titlePadding": 15}}}}
          ]
        },
        {
          "width": 575, "height": 158,
          "title": {"text": "Distribution of correlation values for ADHD QPP", "frame": "group", "offset": 14},
          "data": {"name": "hist"},
          "transform": [{"filter": "datum.panel == 'ADHD'"}],
          "encoding": {
            "x": {"field": "lo", "type": "quantitative", "scale": {"domain": [-0.816, 0.816], "nice": false, "zero": false}, "axis": {"values": [-0.75, 0, 0.75], "labelExpr": "(datum.value < 0 ? '-' : '') + format(abs(datum.value), '~g')", "title": "Correlation", "labelPadding": 11, "titlePadding": 4}},
            "x2": {"field": "hi"},
            "y2": {"datum": 0}
          },
          "layer": [
            {"mark": {"type": "bar", "stroke": "black", "strokeWidth": 1.5},
             "encoding": {
               "y": {"field": "before", "type": "quantitative", "scale": {"domain": [0, 10.5], "nice": false}, "axis": {"values": [0, 5, 10], "labelExpr": "datum.value == 10 ? '5' : '0'", "title": "Frequency x 10³", "labelPadding": 11, "titlePadding": 15}},
               "color": {"datum": "Before QPP Regression", "type": "nominal", "scale": {"domain": ["Before QPP Regression", "After QPP Regression"], "range": ["#6f7dff", "#ff7373"]},
                 "legend": {"orient": "none", "legendX": 72, "legendY": 216, "direction": "horizontal", "title": null, "symbolType": "square", "symbolSize": 190, "symbolStrokeColor": "black", "symbolStrokeWidth": 1.2, "labelOffset": 4, "columnPadding": 20}}
             }},
            {"mark": {"type": "bar", "stroke": "black", "strokeWidth": 1.5},
             "encoding": {"y": {"field": "after", "type": "quantitative", "scale": {"domain": [0, 10.5], "nice": false}, "axis": {"values": [0, 5, 10], "labelExpr": "datum.value == 10 ? '5' : '0'", "title": "Frequency x 10³", "labelPadding": 11, "titlePadding": 15}}, "color": {"datum": "After QPP Regression", "type": "nominal"}}},
            {"transform": [{"fold": ["before", "after"], "as": ["series", "val"]}, {"aggregate": [{"op": "min", "field": "val", "as": "overlap"}], "groupby": ["lo", "hi"]}],
             "mark": {"type": "bar", "fill": "#ff3377", "stroke": "#c40000", "strokeWidth": 1.5},
             "encoding": {"y": {"field": "overlap", "type": "quantitative", "scale": {"domain": [0, 10.5], "nice": false}, "axis": {"values": [0, 5, 10], "labelExpr": "datum.value == 10 ? '5' : '0'", "title": "Frequency x 10³", "labelPadding": 11, "titlePadding": 15}}}},
            {"mark": {"type": "bar", "fillOpacity": 0, "stroke": "black", "strokeWidth": 1.5},
             "encoding": {"y": {"field": "after", "type": "quantitative", "scale": {"domain": [0, 10.5], "nice": false}, "axis": {"values": [0, 5, 10], "labelExpr": "datum.value == 10 ? '5' : '0'", "title": "Frequency x 10³", "labelPadding": 11, "titlePadding": 15}}}}
          ]
        }
      ]
    }
  ]
}
